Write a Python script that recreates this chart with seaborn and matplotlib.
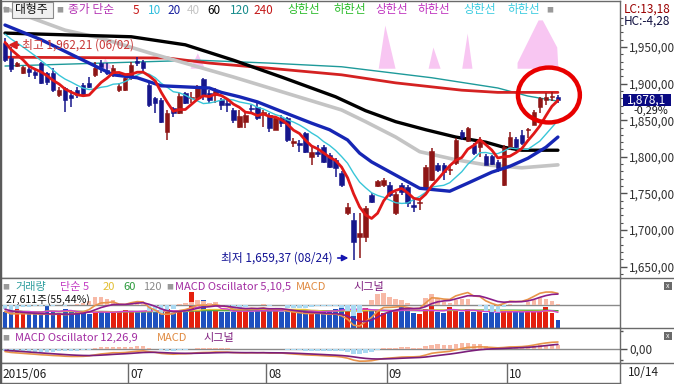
import numpy as np
import pandas as pd
import matplotlib
matplotlib.use("Agg")
import matplotlib.pyplot as plt
import seaborn as sns
from matplotlib.patches import Ellipse, Rectangle
from matplotlib.lines import Line2D
from matplotlib.ticker import FixedLocator, FuncFormatter

# ---------------- data ----------------
opens = [1955, 1934.5, 1924, 1914.5, 1920, 1916, 1928, 1914, 1914, 1884,
         1894, 1884, 1891, 1898, 1901, 1912, 1928, 1919, 1912, 1891,
         1891, 1907, 1931, 1930, 1898, 1880, 1878, 1834, 1867, 1860,
         1887, 1880, 1880, 1906, 1887, 1884, 1878, 1874, 1864, 1841,
         1847, 1867, 1868, 1859, 1857, 1836, 1853, 1853, 1819, 1819,
         1832, 1800, 1807, 1813, 1802, 1796, 1778, 1723, 1714, 1690,
         1690, 1748, 1760, 1762, 1761, 1723, 1761, 1759, 1734, 1737,
         1757, 1768, 1789, 1789, 1782, 1791, 1834, 1821, 1816, 1813,
         1801, 1801, 1793, 1761, 1812, 1824, 1830, 1837, 1843, 1868,
         1878, 1882, 1882]
highs = [1962.21, 1950, 1930, 1924, 1923, 1921, 1930, 1916, 1921, 1895,
         1895, 1891, 1895, 1901, 1909, 1929, 1932, 1928, 1925, 1901,
         1909, 1929, 1936, 1932, 1902, 1882, 1880, 1864, 1868, 1887,
         1888, 1888, 1898, 1908, 1891, 1894, 1880, 1878, 1867, 1864,
         1861, 1871, 1874, 1864, 1860, 1854, 1857, 1854, 1826, 1823,
         1834, 1813, 1816, 1816, 1805, 1798, 1781, 1737, 1723, 1723,
         1733, 1751, 1768, 1771, 1766, 1752, 1764, 1761, 1741, 1744,
         1789, 1812, 1791, 1791, 1789, 1826, 1837, 1841, 1819, 1827,
         1804, 1802, 1796, 1816, 1834, 1827, 1837, 1839, 1864, 1882,
         1887, 1888, 1885]
lows = [1929, 1916, 1923, 1913, 1909, 1906, 1899, 1898, 1889, 1882,
        1861, 1868, 1880, 1883, 1894, 1909, 1914, 1912, 1909, 1889,
        1890, 1905, 1924, 1916, 1868, 1860, 1846, 1823, 1854, 1858,
        1872, 1873, 1878, 1878, 1873, 1873, 1864, 1861, 1846, 1839,
        1839, 1860, 1850, 1841, 1834, 1836, 1841, 1820, 1813, 1807,
        1805, 1789, 1800, 1791, 1785, 1772, 1759, 1721, 1659.37, 1662,
        1684, 1737, 1759, 1759, 1745, 1721, 1748, 1731, 1725, 1727,
        1755, 1767, 1779, 1768, 1775, 1789, 1823, 1820, 1802, 1800,
        1789, 1789, 1779, 1760, 1809, 1812, 1816, 1826, 1843, 1860,
        1871, 1876, 1873]
closes = [1932, 1919.5, 1928, 1922.7, 1916, 1912, 1901, 1902, 1891, 1891,
          1878, 1880, 1884, 1884, 1896, 1921, 1923, 1914, 1921, 1897,
          1907, 1925, 1928, 1921, 1871, 1873, 1847, 1860, 1860, 1883,
          1873, 1881.5, 1895, 1884, 1878, 1890, 1871, 1871, 1850, 1856,
          1857, 1865.5, 1853, 1861, 1839, 1853, 1846, 1823, 1821, 1816,
          1807, 1807, 1804, 1793, 1786, 1785, 1762, 1731, 1684, 1696,
          1730, 1738, 1767, 1768, 1748, 1749, 1752, 1737, 1731, 1738.5,
          1786, 1808, 1782, 1779, 1784, 1823, 1827, 1839, 1805, 1823,
          1789, 1790, 1785, 1813, 1827, 1813, 1819, 1838.5, 1861, 1880,
          1882, 1883.6, 1878.1]
prev_closes = [1985, 1982, 1978, 1976, 1972, 1968, 1964, 1958, 1960]
volumes = [55, 52, 62, 50, 54, 50, 48, 76, 52, 50,
           62, 52, 56, 50, 48, 55, 58, 52, 50, 56,
           60, 58, 52, 55, 62, 55, 58, 62, 50, 58,
           55, 120, 58, 93, 60, 58, 55, 52, 55, 60,
           58, 55, 58, 56, 60, 58, 55, 60, 55, 52,
           56, 60, 50, 55, 58, 62, 74, 62, 56, 60,
           66, 60, 58, 50, 55, 60, 72, 62, 50, 48,
           62, 72, 55, 50, 70, 58, 55, 62, 52, 56,
           50, 55, 50, 58, 56, 52, 52, 54, 55, 58,
           71, 49.8, 27.611]  # thousand

ma20_idx = [0, 6, 14, 18, 22, 26, 34, 36, 39, 42, 46, 51, 54, 57, 59, 61, 65, 69, 74, 77, 81, 84, 87, 90, 92]
ma20_val = [1980, 1960, 1928, 1912, 1908, 1897, 1894, 1888, 1882, 1875, 1862, 1846, 1837, 1823, 1805,
            1793, 1775, 1757, 1753, 1764, 1779, 1787, 1798, 1813, 1827]
ma40_idx = [0, 10, 16, 24, 38, 48, 56, 60, 65, 69, 75, 80, 86, 92]
ma40_val = [2003, 1973, 1962, 1942, 1909, 1884, 1864, 1848, 1827, 1807, 1796, 1789, 1785, 1789]
ma60_idx = [0, 21, 30, 38, 46, 55, 60, 65, 70, 75, 80, 83, 86, 92]
ma60_val = [1969, 1964, 1953, 1932, 1909, 1882, 1863, 1848, 1837, 1827, 1820, 1813, 1809, 1809]
ma120_idx = [0, 16, 32, 44, 56, 71, 82, 87, 92]
ma120_val = [1924, 1928, 1932, 1928, 1923, 1908, 1894, 1883, 1876]
ma240_idx = [0, 27, 34, 44, 56, 65, 76, 82, 92]
ma240_val = [1936, 1935, 1928, 1921, 1912, 1901, 1891, 1888, 1888]

band_idx = [[15.8, 16.6, 17.8], [30.8, 32.0, 33.2], [62.1, 63.2, 64.9],
            [70.4, 71.2, 72.4], [76.0, 76.9, 77.7], [85.2, 88.7, 89.4, 91.8, 92.0]]
band_top = [[1921, 1935, 1921], [1921, 1942, 1921], [1921, 1980, 1921],
            [1921, 1950, 1921], [1921, 1969, 1921], [1929, 1987, 1987, 1950, 1921]]
band_floor = 1921

month_labels = ['2015/06', '07', '08', '09', '10']
month_start = [-1, 21, 44, 64, 84]
last_date = '10/14'
price_ticks = [1650, 1700, 1750, 1800, 1850, 1900, 1950]
hi_text = '최고 1,962,21 (06/02)'
lo_text = '최저 1,659,37 (08/24)'
vol_text = '27,611주(55,44%)'
lc_text = 'LC:13,18'
hc_text = 'HC:-4,28'
chg_text = '-0,29%'

# ---------------- style ----------------
sns.set_theme(style='white')
FONT = ['Liberation Sans Narrow', 'Noto Sans CJK KR', 'DejaVu Sans']
plt.rcParams['font.family'] = FONT
plt.rcParams['axes.unicode_minus'] = False

UP, DN = '#8E1616', '#16168C'
VUP, VDN = '#E4200E', '#1E50C0'

fig = plt.figure(figsize=(6.74, 3.84), dpi=100)
fig.patch.set_facecolor('white')
W, H = 674.0, 384.0


def box(x0, y0, x1, y1):
    return [x0 / W, 1 - y1 / H, (x1 - x0) / W, (y1 - y0) / H]


def fx(px):
    return px / W


def fy(py):
    return 1 - py / H


def kfmt(v, d=2):
    return f"{v:,.{d}f}".replace('.', '#').replace('#', ',')


X0, X1 = 1, 620
ax = fig.add_axes(box(X0, 1, X1, 278))
axv = fig.add_axes(box(X0, 278, X1, 328))
axm = fig.add_axes(box(X0, 328, X1, 363))
axd = fig.add_axes(box(X0, 363, X1, 383))

XL = ((X0 - 5) / 6.01, (X1 - 5) / 6.01)
for a in (ax, axv, axm, axd):
    a.set_xlim(*XL)
    a.set_facecolor('white')
    a.set_xticks([])
    for s in a.spines.values():
        s.set_color('#6a6a6a')
        s.set_linewidth(1.0)

n = len(closes)
x = np.arange(n)
O, Hh, L, C = map(np.array, (opens, highs, lows, closes))
up = C >= O
col = np.where(up, UP, DN)

# ---------------- main panel ----------------
ax.set_ylim(2014.2 - 1.366 * 278, 2014.2 - 1.366 * 1)

for bi, bt in zip(band_idx, band_top):
    ax.fill_between(bi, band_floor, bt, color='#F8C6F2', lw=0, zorder=1)

sns.lineplot(x=ma120_idx, y=ma120_val, ax=ax, color='#1E9A9A', lw=1.0, zorder=2)
sns.lineplot(x=ma240_idx, y=ma240_val, ax=ax, color='#D42222', lw=2.0, zorder=2)
sns.lineplot(x=ma40_idx, y=ma40_val, ax=ax, color='#C4C4C4', lw=2.6, zorder=2)
sns.lineplot(x=ma60_idx, y=ma60_val, ax=ax, color='#000000', lw=2.4, zorder=2)

allc = pd.Series(prev_closes + closes, dtype=float)
k = len(prev_closes)
ma5 = allc.rolling(5).mean().iloc[k:].to_numpy()
ma10 = allc.rolling(10).mean().iloc[k:].to_numpy()

ax.vlines(x, L, Hh, colors=col, lw=1.1, zorder=3)
body_bot = np.minimum(O, C)
body_h = np.maximum(np.abs(C - O), 1.3)
ax.bar(x, body_h, bottom=body_bot, width=0.74, color=col, edgecolor=col, lw=0.4, zorder=3)

sns.lineplot(x=x, y=ma10, ax=ax, color='#38C6D8', lw=1.0, zorder=4)
sns.lineplot(x=ma20_idx, y=ma20_val, ax=ax, color='#1626B4', lw=2.4, zorder=4)
sns.lineplot(x=x, y=ma5, ax=ax, color='#E01818', lw=2.0, zorder=5)

ax.yaxis.tick_right()
ax.yaxis.set_major_locator(FixedLocator(price_ticks))
ax.yaxis.set_minor_locator(FixedLocator(list(range(1640, 2000, 10))))
ax.yaxis.set_major_formatter(FuncFormatter(lambda v, p: kfmt(v)))
ax.tick_params(axis='y', which='major', direction='out', length=5, width=1, color='#505050',
               labelcolor='#303030', labelsize=8.5, pad=1.5, right=True, left=False)
ax.tick_params(axis='y', which='minor', direction='out', length=2.5, width=0.8, color='#505050',
               right=True, left=False)
ax.set_xlabel('')
ax.set_ylabel('')

# high / low annotations
hi_i = int(np.argmax(Hh))
lo_i = int(np.argmin(L))
hi_v, lo_v = Hh[hi_i], L[lo_i]
ax.annotate('', xy=(hi_i + 0.05, hi_v - 9.5), xytext=(hi_i + 2.7, hi_v - 9.5),
            arrowprops=dict(arrowstyle='-|>', color='#D82020', lw=1.6, mutation_scale=11),
            zorder=6)
ax.text(hi_i + 2.8, hi_v - 9.5, hi_text, color='#C83838', fontsize=8.5, va='center', ha='left', zorder=6)
ax.annotate('', xy=(lo_i - 0.4, lo_v + 2.4), xytext=(lo_i - 3.1, lo_v + 2.4),
            arrowprops=dict(arrowstyle='-|>', color='#1414B0', lw=1.2, mutation_scale=9),
            zorder=6)
ax.text(lo_i - 3.5, lo_v + 2.4, lo_text, color='#141496', fontsize=8.5, va='center', ha='right', zorder=6)

# red circle around the latest candles
ax.add_patch(Ellipse((n - 2.5, C[-1] + 6.3), 10.3, 75, fill=False, ec='#E80000', lw=3.2, zorder=7))

# ---------------- volume panel ----------------
vol = np.array(volumes) * 1000.0
vcol = np.where(up, VUP, VDN)
axv.bar(x, vol, width=0.8, color=vcol, lw=0, zorder=2)
vs = pd.Series(vol)
for w, c in ((120, '#9A9A9A'), (60, '#2EA040'), (20, '#E6C43C'), (5, '#D040D0')):
    sns.lineplot(x=x, y=vs.rolling(w, min_periods=1).mean().to_numpy(), ax=axv, color=c, lw=1.0, zorder=3)
axv.set_ylim(0, 50 * 100000 / 30)
axv.yaxis.tick_right()
axv.yaxis.set_major_locator(FixedLocator([100000]))
axv.yaxis.set_minor_locator(FixedLocator([20000, 140000]))
axv.yaxis.set_major_formatter(FuncFormatter(lambda v, p: f"{v:,.0f}"))
axv.tick_params(axis='y', which='major', direction='out', length=5, width=1, color='#505050',
                labelcolor='#303030', labelsize=8.5, pad=1.5, right=True, left=False)
axv.tick_params(axis='y', which='minor', direction='out', length=2.5, color='#505050', right=True, left=False)
axv.set_xlabel('')
axv.set_ylabel('')

ema = lambda s, sp: s.ewm(span=sp, adjust=False).mean()
m1 = ema(allc, 5) - ema(allc, 10)
s1 = ema(m1, 5)
h1 = (m1 - s1).iloc[k:].to_numpy()
m1 = m1.iloc[k:].to_numpy()
s1 = s1.iloc[k:].to_numpy()
axo = axv.twinx()
axo.set_xlim(*XL)
sc = max(-min(m1.min(), s1.min()) / 21.0, max(m1.max(), s1.max()) / 13.0)
axo.set_ylim(-23 * sc, 27 * sc)
axo.axhline(0, color='#8a8a8a', lw=1.0, zorder=1)
axo.bar(x, h1 * 1.8, width=0.74, color=np.where(h1 >= 0, '#F7B9A6', '#A9D9F2'), lw=0, zorder=2)
sns.lineplot(x=x, y=m1, ax=axo, color='#E8944A', lw=1.2, zorder=3)
sns.lineplot(x=x, y=s1, ax=axo, color='#8A1E8A', lw=1.2, zorder=3)
axo.set_yticks([])
axo.set_ylabel('')
for s in axo.spines.values():
    s.set_visible(False)

# ---------------- MACD panel ----------------
m2 = ema(allc, 12) - ema(allc, 26)
s2 = ema(m2, 9)
h2 = (m2 - s2).iloc[k:].to_numpy()
m2 = m2.iloc[k:].to_numpy()
s2 = s2.iloc[k:].to_numpy()
sc2 = max(-min(m2.min(), s2.min()) / 13.5, max(m2.max(), s2.max()) / 7.0)
axm.set_ylim(-14 * sc2, 21 * sc2)
axm.axhline(0, color='#8a8a8a', lw=1.0, zorder=1)
axm.bar(x, h2 * 1.5, width=0.74, color=np.where(h2 >= 0, '#F7B9A6', '#A9D9F2'), lw=0, zorder=2)
sns.lineplot(x=x, y=m2, ax=axm, color='#E8944A', lw=1.2, zorder=3)
sns.lineplot(x=x, y=s2, ax=axm, color='#7A1E7A', lw=1.2, zorder=3)
axm.yaxis.tick_right()
axm.yaxis.set_major_locator(FixedLocator([0]))
axm.yaxis.set_minor_locator(FixedLocator([-11 * sc2, 18 * sc2]))
axm.yaxis.set_major_formatter(FuncFormatter(lambda v, p: kfmt(v)))
axm.tick_params(axis='y', which='major', direction='out', length=5, width=1, color='#505050',
                labelcolor='#303030', labelsize=8.5, pad=1.5, right=True, left=False)
axm.tick_params(axis='y', which='minor', direction='out', length=2.5, color='#505050', right=True, left=False)
axm.set_xlabel('')
axm.set_ylabel('')

# ---------------- date bar ----------------
axd.set_ylim(0, 1)
axd.set_yticks([])
for lab, ms in zip(month_labels, month_start):
    sep = ms - 0.5
    if sep > XL[0]:
        axd.axvline(sep, color='#6a6a6a', lw=1.0)
    axd.text(max(sep, XL[0]) + 0.3, 0.45, lab, fontsize=8.5, color='#202020', va='center', ha='left')
fig.text(fx(628), fy(373), last_date, fontsize=8.5, color='#202020', va='center', ha='left')

# ---------------- legends & labels ----------------
def t(px, py, s, c, fs=8.5, **kw):
    fig.text(fx(px), fy(py), s, color=c, fontsize=fs, va='center', ha='left', **kw)


sq = '#9A9A9A'
t(2, 10, '■', sq, 5)
fig.patches.append(Rectangle((fx(12), fy(18)), (53 - 12) / W, 16 / H, transform=fig.transFigure,
                             fc='#F0F0F0', ec='#8A8A8A', lw=0.8, zorder=2))
t(15, 10, '대형주', '#101010', 8.5, zorder=3)
t(56, 10, '■', sq, 5)
legend_row = [(68, '종가 단순', '#B434B4'), (133, '5', '#C81818'), (148, '10', '#30BEDE'),
              (167, '20', '#1A22A0'), (187, '40', '#C6C6C6'), (207, '60', '#000000'),
              (230, '120', '#178C8C'), (253, '240', '#C41818'),
              (287, '상한선', '#2CBC2C'), (333, '하한선', '#2CBC2C'),
              (375, '상한선', '#C034C0'), (418, '하한선', '#C034C0'),
              (463, '상한선', '#3CCCE0'), (507, '하한선', '#3CCCE0')]
for px, s, c in legend_row:
    t(px, 10, s, c)
t(546, 10, '■', sq, 5)

t(624, 9, lc_text, '#9A0000', 8.5)
t(624, 21, hc_text, '#101040', 8.5)
fig.patches.append(Rectangle((fx(623), fy(106)), 48 / W, 12 / H, transform=fig.transFigure,
                             fc='#0A0A82', ec='none', zorder=4))
t(627, 100, kfmt(closes[-1], 1), 'white', 8.5, zorder=5)
t(633, 110.5, chg_text, '#101010', 7.8, zorder=5)

t(2, 287, '■', sq, 5)
vol_row = [(15, '거래량', '#2E9E9E'), (60, '단순 5', '#C43CC4'), (103, '20', '#E2BE30'),
           (123, '60', '#2A9A3A'), (143, '120', '#8A8A8A'), (175, 'MACD Oscillator 5,10,5', '#A22CA2'),
           (296, 'MACD', '#E08A40'), (353, '시그널', '#7E1E7E')]
for px, s, c in vol_row:
    t(px, 287, s, c, 8)
t(166, 287, '■', sq, 5)
t(6, 299.5, vol_text, '#101010', 7.6)

t(2, 338, '■', sq, 5)
for px, s, c in [(15, 'MACD Oscillator 12,26,9', '#A22CA2'), (157, 'MACD', '#E08A40'), (203, '시그널', '#7E1E7E')]:
    t(px, 338, s, c, 8)

for py in (286, 336):
    fig.patches.append(Rectangle((fx(664), fy(py + 4)), 8 / W, 8 / H, transform=fig.transFigure,
                                 fc='#6A6A6A', ec='none', zorder=4))
    fig.text(fx(668), fy(py), 'x', color='white', fontsize=5, ha='center', va='center', zorder=5)

for py in (278, 328, 363):
    fig.add_artist(Line2D([fx(620), 1], [fy(py), fy(py)], color='#6a6a6a', lw=1.0))
fig.add_artist(Line2D([fx(0.5), fx(0.5)], [0, 1], color='#5a5a5a', lw=1.5))

fig.savefig('out.png', dpi=100, facecolor='white')
